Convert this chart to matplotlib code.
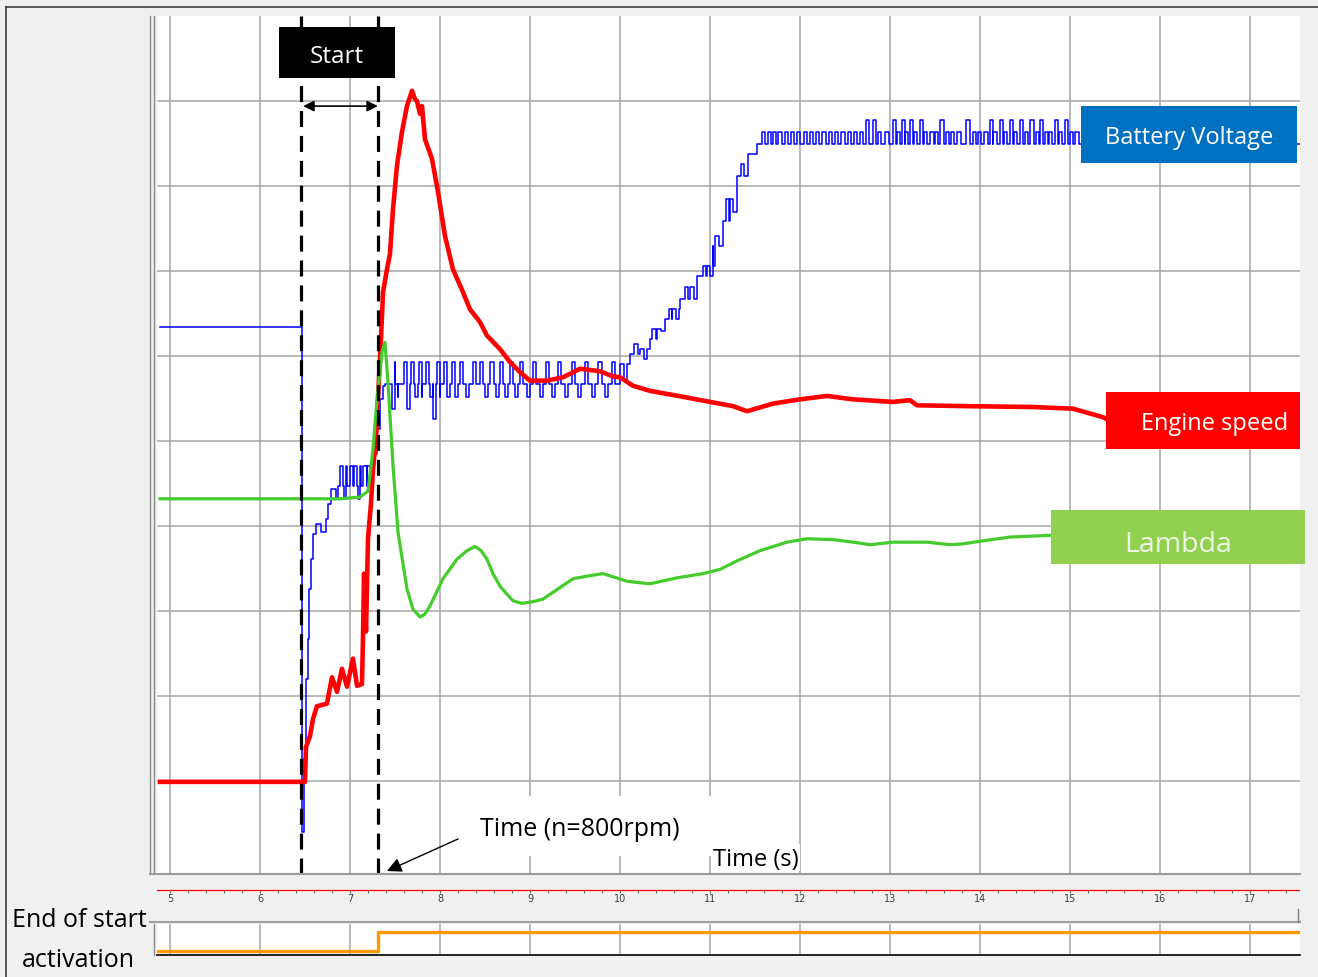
import numpy as np
import matplotlib
matplotlib.use('Agg')
from matplotlib import pyplot as plt
from matplotlib.patches import Rectangle
from matplotlib.lines import Line2D

W, H = 1318, 978

# Data: time in s, signals in grid divisions (arbitrary units of the logger)
start_t = 6.46      # start of crank
n800_t = 7.31       # engine reaches 800 rpm

red_t = [4.889, 6.50, 6.511, 6.556, 6.589, 6.633, 6.744, 6.80, 6.856, 6.911, 6.967, 7.033, 7.078,
         7.133, 7.144, 7.156, 7.178, 7.20, 7.233, 7.256, 7.289, 7.311, 7.344, 7.367, 7.411, 7.444,
         7.478, 7.522, 7.578, 7.633, 7.689, 7.722, 7.744, 7.778, 7.80, 7.833, 7.911, 7.978, 8.056,
         8.144, 8.256, 8.333, 8.444, 8.522, 8.667, 8.778, 8.889, 9.0, 9.189, 9.367, 9.556, 9.778,
         9.922, 10.0, 10.144, 10.333, 10.70, 11.0, 11.256, 11.411, 11.70, 12.0, 12.30, 12.589,
         13.033, 13.222, 13.30, 13.856, 14.589, 15.033, 15.367, 15.40]
red_v = [0.99, 0.99, 1.40, 1.53, 1.73, 1.88, 1.91, 2.22, 2.05, 2.32, 2.11, 2.44, 2.12,
         2.14, 2.67, 3.44, 2.76, 3.85, 4.26, 4.67, 5.02, 5.49, 6.20, 6.75, 7.02, 7.20,
         7.73, 8.24, 8.64, 8.94, 9.12, 9.02, 9.00, 8.85, 8.94, 8.55, 8.32, 7.93, 7.41,
         7.02, 6.75, 6.55, 6.40, 6.24, 6.08, 5.93, 5.81, 5.71, 5.71, 5.75, 5.85, 5.82,
         5.76, 5.75, 5.65, 5.59, 5.52, 5.46, 5.41, 5.35, 5.44, 5.49, 5.53, 5.49,
         5.46, 5.48, 5.42, 5.41, 5.40, 5.38, 5.28, 5.26]

green_t = [4.889, 6.889, 7.111, 7.20, 7.256, 7.30, 7.356, 7.389, 7.422, 7.478, 7.533, 7.633,
           7.70, 7.778, 7.83, 7.889, 8.033, 8.189, 8.30, 8.389, 8.456, 8.522, 8.589, 8.667,
           8.811, 8.911, 9.033, 9.144, 9.256, 9.478, 9.633, 9.811, 10.078, 10.333, 10.633,
           10.922, 11.111, 11.30, 11.556, 11.856, 12.078, 12.367, 12.589, 12.778, 13.033,
           13.411, 13.667, 13.811, 14.0, 14.333, 14.778]
green_v = [4.32, 4.32, 4.34, 4.41, 4.91, 5.49, 6.05, 6.16, 5.69, 4.71, 3.93, 3.26,
           3.02, 2.93, 2.96, 3.06, 3.38, 3.61, 3.71, 3.76, 3.71, 3.61, 3.44, 3.29,
           3.12, 3.09, 3.11, 3.14, 3.22, 3.38, 3.41, 3.44, 3.35, 3.32, 3.39,
           3.44, 3.49, 3.59, 3.71, 3.81, 3.85, 3.84, 3.81, 3.78, 3.81,
           3.81, 3.78, 3.79, 3.82, 3.87, 3.89]

# battery voltage: quantised steps plus the sampling spikes
blue_t = [4.889, 6.467, 6.49, 6.51, 6.53, 6.55, 6.57, 6.59, 6.62, 6.68, 6.73, 6.76, 6.79, 6.84,
          6.87, 7.256, 7.30, 7.333, 7.367, 7.39, 10.0, 10.11, 10.22, 10.33, 10.41, 10.50, 10.58,
          10.67, 10.78, 10.86, 10.97, 11.03, 11.09, 11.14, 11.22, 11.30, 11.37, 11.42, 11.52, 17.556]
blue_v = [6.34, 0.40, 1.26, 2.20, 2.67, 3.26, 3.61, 3.91, 4.02, 3.93, 4.08, 4.26, 4.44, 4.32,
          4.47, 4.85, 5.14, 5.49, 5.65, 5.67, 5.91, 6.02, 6.08, 6.20, 6.32, 6.44, 6.55,
          6.67, 6.81, 6.94, 7.06, 7.29, 7.41, 7.59, 7.85, 8.12, 8.26, 8.38, 8.49, 8.49]
spike_t = [6.89, 6.935, 6.96, 7.00, 7.04, 7.085, 7.11, 7.15, 7.19, 7.22,
           7.47, 7.50, 7.53, 7.60, 7.635, 7.68, 7.72, 7.77, 7.80, 7.84, 7.89, 7.925, 7.97, 8.00,
           8.04, 8.08, 8.13, 8.17, 8.22, 8.29, 8.37, 8.44, 8.50, 8.56, 8.62, 8.67, 8.72, 8.78,
           8.83, 8.89, 8.97, 9.03, 9.11, 9.18, 9.24, 9.31, 9.39, 9.47, 9.53, 9.61, 9.69, 9.76,
           9.83, 9.91,
           10.04, 10.16, 10.27, 10.36, 10.46, 10.54, 10.62, 10.72, 10.82, 10.92, 11.00, 11.06,
           11.18, 11.26, 11.34, 11.46,
           11.58, 11.64, 11.70, 11.76, 11.83, 11.90, 11.97, 12.04, 12.11, 12.18, 12.25, 12.32,
           12.39, 12.46, 12.53, 12.60, 12.67, 12.87, 12.95, 13.08, 13.17, 13.27, 13.38, 13.45,
           13.50, 13.62, 13.68, 13.75, 13.92, 13.98, 14.05, 14.15, 14.27, 14.38, 14.50, 14.62,
           14.72, 14.77, 14.88, 15.0, 15.06, 15.13,
           12.73, 12.81, 13.03, 13.13, 13.22, 13.33, 13.56, 13.85, 14.11, 14.22, 14.33, 14.44,
           14.56, 14.67, 14.83, 14.94]
spike_v = [4.71, 4.32, 4.71, 4.71, 4.71, 4.32, 4.71, 4.71, 4.71, 4.71,
           5.38, 5.93, 5.52, 5.93, 5.38, 5.93, 5.52, 5.93, 5.52, 5.93, 5.52, 5.26, 5.93, 5.52,
           5.93, 5.52, 5.93, 5.52, 5.93, 5.52, 5.93, 5.93, 5.52, 5.93, 5.52, 5.93, 5.52, 5.93,
           5.52, 5.93, 5.52, 5.93, 5.52, 5.93, 5.52, 5.93, 5.52, 5.93, 5.52, 5.93, 5.52, 5.93,
           5.52, 5.93,
           5.72, 6.14, 5.96, 6.32, 6.30, 6.55, 6.44, 6.81, 6.67, 7.06, 6.94, 7.41,
           7.85, 7.70, 8.26, 8.38] + [8.64] * 42 + [8.78] * 16

orange_t = [4.867, n800_t, 17.556]   # end of start activation (0 = off, 1 = on)
orange_v = [0, 1, 1]

ticks_s = list(range(5, 18))


def with_spikes(base_t, base_v, sp_t, sp_v, w=0.035):
    base_t = np.asarray(base_t)
    ts, vs = list(base_t), list(base_v)
    for t, v in zip(sp_t, sp_v):
        i = np.searchsorted(base_t, t, side='right') - 1
        ts += [t, t + w]
        vs += [v, base_v[i]]
    order = np.argsort(ts, kind='stable')
    return np.array(ts)[order], np.array(vs)[order]


def fx(x):
    return x / W


def fy(y):
    return 1 - y / H


fig = plt.figure(figsize=(W / 100, H / 100), dpi=100, facecolor='#f0f0f0')


def add_rect(x0, y0, x1, y1, color, z=2):
    fig.add_artist(Rectangle((fx(x0), fy(y1)), (x1 - x0) / W, (y1 - y0) / H,
                             transform=fig.transFigure, facecolor=color, edgecolor='none', zorder=z))


def add_line(xs, ys, color, lw, z=2):
    fig.add_artist(Line2D([fx(x) for x in xs], [fy(y) for y in ys], transform=fig.transFigure,
                          color=color, lw=lw, zorder=z))


xlim = (4.8556, 17.5556)
grid_c = '#a6a6a6'

# main trace window
ax = fig.add_axes([fx(157), fy(875), (1300 - 157) / W, (875 - 17) / H])
ax.set_xlim(*xlim)
ax.set_ylim(-0.094, 10.0)
ax.axis('off')
ax.add_patch(Rectangle((0, 0), 1, 1, transform=ax.transAxes, facecolor='white', zorder=0))
for t in ticks_s:
    ax.axvline(t, color=grid_c, lw=1.1, zorder=1)
for v in range(1, 10):
    ax.axhline(v, color=grid_c, lw=1.1, zorder=1)

bt, bv = with_spikes(blue_t, blue_v, spike_t, spike_v)
ax.plot(bt, bv, drawstyle='steps-post', color='#0000ff', lw=1.1, zorder=3)
ax.plot(red_t, red_v, color='#ff0000', lw=3.3, zorder=4, solid_joinstyle='round')
ax.plot(green_t, green_v, color='#44cc2c', lw=2.3, zorder=5, solid_joinstyle='round')
for t in (start_t, n800_t):
    ax.axvline(t, color='black', lw=2.3, ls=(0, (5, 2.8)), zorder=6)

ax.annotate('', xy=(n800_t, 8.94), xytext=(start_t + 0.02, 8.94),
            arrowprops=dict(arrowstyle='<|-|>', color='black', lw=1.2, mutation_scale=16,
                            shrinkA=0, shrinkB=0), zorder=7)
ax.annotate('', xy=(7.41, -0.059), xytext=(8.2, 0.318), annotation_clip=False,
            arrowprops=dict(arrowstyle='-|>', color='black', lw=1.0, mutation_scale=22,
                            shrinkA=0, shrinkB=0), zorder=7)

# time scale strip
ax_t = fig.add_axes([fx(157), fy(923), (1300 - 157) / W, (923 - 876) / H])
ax_t.set_xlim(*xlim)
ax_t.set_ylim(923, 876)
ax_t.axis('off')
ax_t.plot(xlim, [891, 891], color='#ff0000', lw=0.9)
ax_t.vlines(np.arange(4.8, 17.6, 0.2), 891, 894, color='#707070', lw=0.8)
for t in ticks_s:
    ax_t.text(t, 899, str(t), ha='center', va='center', fontsize=7, color='#404040')

# end-of-start channel
ax_b = fig.add_axes([fx(157), fy(955), (1300 - 157) / W, (955 - 925) / H])
ax_b.set_xlim(*xlim)
ax_b.set_ylim(-0.158, 1.421)
ax_b.axis('off')
ax_b.add_patch(Rectangle((0, 0), 1, 1, transform=ax_b.transAxes, facecolor='white', zorder=0))
for t in ticks_s:
    ax_b.axvline(t, color=grid_c, lw=1.1, zorder=1)
ax_b.plot(orange_t, orange_v, drawstyle='steps-post', color='#ff9900', lw=2.4, zorder=3)

# frame lines of the logger window
add_line([6, 1318], [8, 8], '#3c3c3c', 1.2)
add_line([6, 6], [8, 978], '#3c3c3c', 1.2)
add_line([150, 150], [17, 875], '#8c8c8c', 1.0)
add_line([154, 154], [17, 875], '#8c8c8c', 1.0)
add_line([150, 1300], [875, 875], '#9a9a9a', 1.5)
add_line([150, 1300], [923, 923], '#a0a0a0', 1.5)
add_line([154, 154], [925, 956], '#8c8c8c', 1.0)
add_line([157, 1300], [955.5, 955.5], 'black', 1.2)
add_line([1298, 1298], [910, 923], '#808080', 1.0)

font = 'Open Sans'

# annotations
add_rect(462, 797, 712, 857, 'white')
fig.text(fx(480), fy(830), 'Time (n=800rpm)', ha='left', va='center', fontsize=18, family=font, zorder=4)
add_rect(714, 845, 800, 872, 'white')
fig.text(fx(713), fy(860), 'Time (s)', ha='left', va='center', fontsize=17, family=font, zorder=4)

add_rect(279, 28, 395, 79, 'black', z=3)
fig.text(fx(337), fy(57), 'Start', color='white', ha='center', va='center', fontsize=17.5, family=font, zorder=4)

add_rect(1081, 107, 1297, 164, '#0070c0', z=3)
fig.text(fx(1189), fy(138), 'Battery Voltage', color='white', ha='center', va='center', fontsize=17, family=font, zorder=4)
add_rect(1106, 393, 1300, 450, '#ff0000', z=3)
fig.text(fx(1215), fy(424), 'Engine speed', color='white', ha='center', va='center', fontsize=17, family=font, zorder=4)
add_rect(1051, 511, 1305, 565, '#92d050', z=3)
fig.text(fx(1178), fy(545), 'Lambda', color='#eef7e6', ha='center', va='center', fontsize=20.5, family=font, zorder=4)

fig.text(fx(79), fy(921), 'End of start', ha='center', va='center', fontsize=18, family=font)
fig.text(fx(78), fy(961), 'activation', ha='center', va='center', fontsize=18, family=font)

fig.savefig('out.png', dpi=100, facecolor=fig.get_facecolor())
